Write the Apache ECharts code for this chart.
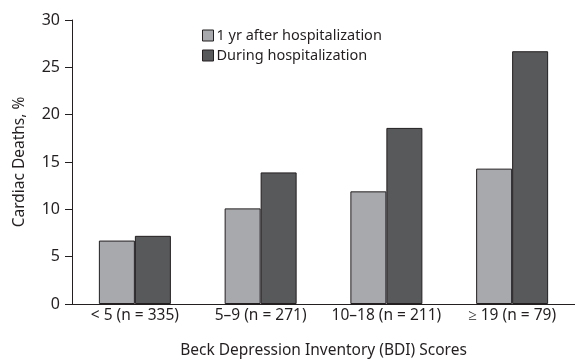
<!DOCTYPE html>
<html><head><meta charset="utf-8">
<script src="https://cdn.jsdelivr.net/npm/echarts@6/dist/echarts.min.js"></script>
<style>html,body{margin:0;padding:0;background:#fff}#c{width:575px;height:364px}</style>
</head><body><div id="c"></div>
<script>
const categories = ['< 5 (n = 335)', '5\u20139 (n = 271)', '10\u201318 (n = 211)', '\u2265 19 (n = 79)'];
const seriesNames = ['1 yr after hospitalization', 'During hospitalization'];
const afterValues = [6.7, 10.1, 11.9, 14.3];
const duringValues = [7.2, 13.9, 18.6, 26.7];
const yTicks = [0, 5, 10, 15, 20, 25, 30];

const font = 'Noto Sans';
const ink = '#231f20';
const chart = echarts.init(document.getElementById('c'), null, {renderer: 'canvas'});
chart.setOption({
  animation: false,
  backgroundColor: '#fff',
  textStyle: {fontFamily: font, color: ink},
  grid: {left: 72, right: -1, top: 20, bottom: 59, containLabel: false},
  legend: {
    orient: 'vertical', left: 202, top: 28, padding: 0,
    icon: 'rect', itemWidth: 11, itemHeight: 11, itemGap: 5,
    textStyle: {fontFamily: font, fontSize: 14.5, lineHeight: 15, color: ink, padding: [0,0,0,-2]},
    data: seriesNames.map(n => ({name: n, itemStyle: {borderColor: ink, borderWidth: 1}}))
  },
  xAxis: {
    type: 'category', data: categories,
    name: 'Beck Depression Inventory (BDI) Scores', nameLocation: 'middle', nameGap: 39,
    nameTextStyle: {fontFamily: font, fontSize: 15.5, color: ink},
    axisLine: {lineStyle: {color: ink, width: 1}},
    axisTick: {show: false},
    axisLabel: {fontFamily: font, fontSize: 15.5, color: ink, margin: 4, interval: 0, hideOverlap: false}
  },
  yAxis: {
    type: 'value', min: yTicks[0], max: yTicks[yTicks.length-1], interval: 5,
    name: 'Cardiac Deaths, %', nameLocation: 'middle', nameGap: 44, nameRotate: 90,
    nameTextStyle: {fontFamily: font, fontSize: 15.5, color: ink},
    axisLine: {show: true, lineStyle: {color: ink, width: 1}},
    axisTick: {show: true, length: 7, lineStyle: {color: ink}},
    axisLabel: {fontFamily: font, fontSize: 16, color: ink, margin: 12},
    splitLine: {show: false}
  },
  series: [
    {name: seriesNames[0], type: 'bar', data: afterValues, barWidth: 36, barGap: '0%',
     itemStyle: {color: '#a7a9ac', borderColor: ink, borderWidth: 1}},
    {name: seriesNames[1], type: 'bar', data: duringValues, barWidth: 36, barGap: '0%',
     itemStyle: {color: '#58595b', borderColor: ink, borderWidth: 1}}
  ]
});
</script></body></html>
